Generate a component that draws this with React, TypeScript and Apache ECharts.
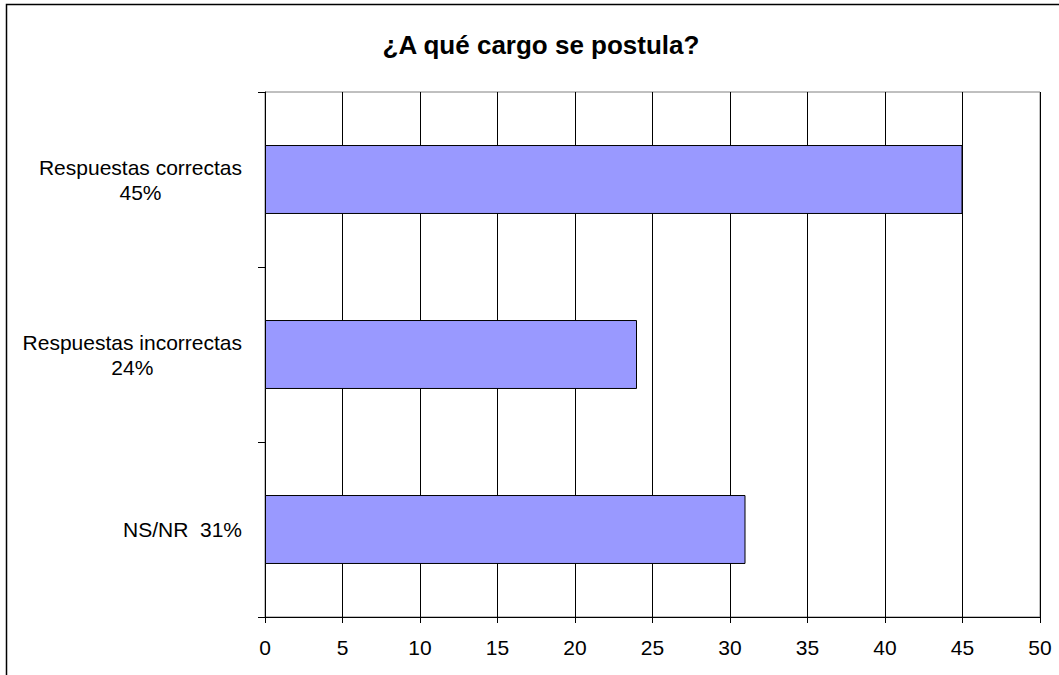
import React, { useEffect, useRef } from "react";
import * as echarts from "echarts";

const titleText = "¿A qué cargo se postula?";
const categories = ["Respuestas correctas\n45%", "Respuestas incorrectas\n24%", "NS/NR  31%"];
const values = [45, 24, 31];
const xMin = 0;
const xMax = 50;
const xStep = 5;

export default function App() {
  const ref = useRef<HTMLDivElement>(null);
  useEffect(() => {
    if (!ref.current) return;
    const chart = echarts.init(ref.current, null, { renderer: "svg" });
    chart.setOption({
      animation: false,
      backgroundColor: "#fff",
      title: {
        text: titleText,
        left: 536,
        textAlign: "center",
        top: 27,
        textStyle: { fontFamily: "Liberation Sans, Arial", fontWeight: "bold", fontSize: 26, color: "#000" },
      },
      graphic: [
        {
          type: "rect",
          shape: { x: 6.5, y: 4.5, width: 1200, height: 800 },
          style: { fill: "none", stroke: "#000", lineWidth: 1.5 },
          silent: true,
          z: 100,
        },
      ],
      grid: {
        left: 265,
        top: 92,
        width: 775,
        height: 525,
        show: true,
        borderColor: "#808080",
        borderWidth: 1,
        backgroundColor: "transparent",
      },
      xAxis: {
        type: "value",
        min: xMin,
        max: xMax,
        interval: xStep,
        axisLine: { show: true, lineStyle: { color: "#000", width: 1 } },
        axisTick: { show: true, length: 6, lineStyle: { color: "#000" } },
        splitLine: { show: true, lineStyle: { color: "#000", width: 1 } },
        axisLabel: { fontFamily: "Liberation Sans, Arial", fontSize: 21, color: "#000", margin: 20 },
      },
      yAxis: {
        type: "category",
        inverse: true,
        data: categories,
        axisLine: { show: true, lineStyle: { color: "#000", width: 1 } },
        axisTick: { show: true, length: 7, lineStyle: { color: "#000" } },
        axisLabel: {
          margin: 23,
          align: "right",
          color: "#000",
          fontFamily: "Liberation Sans, Arial",
          fontSize: 21,
          lineHeight: 25,
          formatter: (v: string) => v.split("\n").map((s) => "{a|" + s + "}").join("\n"),
          rich: {
            a: { align: "center", fontFamily: "Liberation Sans, Arial", fontSize: 21, lineHeight: 25, color: "#000" },
          },
        },
      },
      series: [
        {
          type: "bar",
          data: values,
          barWidth: "39.4%",
          itemStyle: { color: "#9999FF", borderColor: "#000", borderWidth: 1 },
        },
      ],
    });
    return () => chart.dispose();
  }, []);
  return (
    <div
      ref={ref}
      style={{ position: "absolute", left: 0, top: 0, width: 1059, height: 675 }}
    />
  );
}
